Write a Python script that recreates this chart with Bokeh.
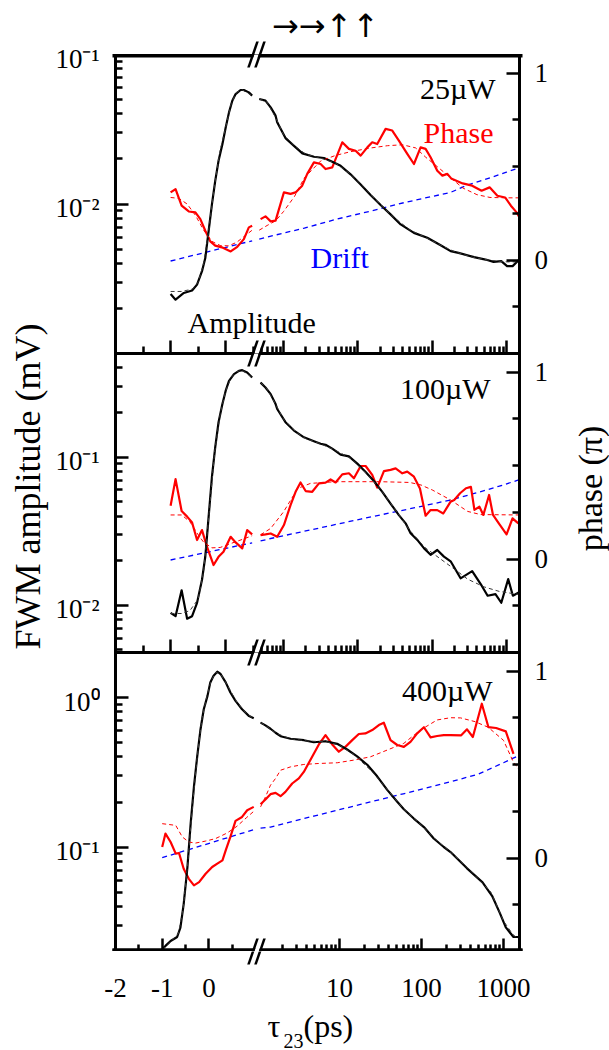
import math

from bokeh.embed import file_html
from bokeh.layouts import column, row
from bokeh.models import (CustomJSTickFormatter, FixedTicker, Label, LinearAxis,
                          LinearScale, LogAxis, LogScale, PolyAnnotation, Range1d)
from bokeh.plotting import figure
from bokeh.resources import INLINE

SERIF = "Liberation Serif"
RED = "#ff0000"
BLUE = "#0000ff"

# ---------------------------------------------------------------- 25 uW
AMP1_LIN_T = [-1.0, -0.91, -0.76, -0.61, -0.52, -0.43, -0.37, -0.31, -0.25, -0.19,
              -0.13, -0.06, 0.0, 0.06, 0.12, 0.18, 0.27, 0.33, 0.42, 0.48]
AMP1_LIN = [0.0025, 0.00229, 0.00254, 0.00264, 0.00289, 0.00355, 0.00436, 0.00659, 0.00995, 0.01426,
            0.01945, 0.0251, 0.0325, 0.0410, 0.0491, 0.0544, 0.0579, 0.0579, 0.0558, 0.0531]
AMP1_LOG_T = [0.47, 0.57, 0.67, 0.78, 0.82, 1.06, 1.38, 1.79, 2.56, 3.49, 4.52, 5.85, 7.97, 10.9, 14.8,
              20.2, 27.5, 37.6, 56.8, 85.9, 130, 177, 226, 366, 523, 670, 851, 1018, 1208, 1455]
AMP1_LOG = [0.0504, 0.0491, 0.0443, 0.0390, 0.0352, 0.0276, 0.0245, 0.0218, 0.0207, 0.0203, 0.0192,
            0.0180, 0.0158, 0.0135, 0.01148, 0.00984, 0.00852, 0.00730, 0.00641, 0.00594, 0.00530,
            0.00484, 0.00471, 0.00441, 0.00425, 0.00410, 0.00415, 0.00384, 0.00384, 0.00421]
AMP1_FIT_LIN_T = [-1.0, -0.8, -0.6, -0.5, -0.4, -0.3, -0.2, -0.1, 0.0, 0.1, 0.2, 0.3, 0.48]
AMP1_FIT_LIN = [0.0026, 0.0026, 0.0027, 0.0030, 0.0040, 0.0070, 0.0135, 0.0230, 0.0325, 0.0470,
                0.0560, 0.0580, 0.0530]
AMP1_FIT_LOG_T = [0.47, 0.6, 0.8, 1.0, 1.4, 2.0, 3.0, 5.0, 8.0, 12, 20, 30, 50, 80, 130, 200, 350,
                  600, 1000, 1500]
AMP1_FIT_LOG = [0.0505, 0.0480, 0.0370, 0.0290, 0.0245, 0.0215, 0.0204, 0.0188, 0.0158, 0.0130,
                0.0099, 0.0082, 0.0067, 0.0060, 0.0053, 0.0048, 0.0044, 0.0042, 0.0041, 0.0041]
PH1_LIN_T = [-1.0, -0.91, -0.80, -0.67, -0.55, -0.46, -0.37, -0.28, -0.19, -0.07, 0.09, 0.21, 0.33,
             0.42, 0.48]
PH1_LIN = [0.362, 0.380, 0.291, 0.260, 0.255, 0.219, 0.157, 0.100, 0.077, 0.068, 0.046, 0.071, 0.112,
           0.175, 0.184]
PH1_LOG_T = [0.49, 0.57, 0.67, 0.78, 1.01, 1.24, 1.45, 1.78, 2.08, 2.56, 3.15, 3.67, 4.52, 6.16, 7.57,
             9.31, 10.9, 13.4, 15.6, 18.2, 23.6, 29.0, 35.6, 46.2, 56.8, 69.8, 81.5, 95.1, 117, 137,
             160, 180, 257, 345, 462, 592, 754, 958, 1146, 1368, 1496]
PH1_LOG = [0.219, 0.234, 0.207, 0.211, 0.362, 0.354, 0.362, 0.398, 0.461, 0.523, 0.514, 0.487, 0.496,
           0.630, 0.595, 0.585, 0.559, 0.603, 0.630, 0.621, 0.702, 0.693, 0.639, 0.568, 0.514, 0.603,
           0.595, 0.550, 0.478, 0.452, 0.461, 0.437, 0.410, 0.398, 0.371, 0.389, 0.344, 0.335, 0.291,
           0.255, 0.228]
PH1_FIT_LIN_T = [-1.0, -0.85, -0.7, -0.55, -0.4, -0.25, -0.1, 0.05, 0.2, 0.35, 0.48]
PH1_FIT_LIN = [0.335, 0.33, 0.30, 0.24, 0.16, 0.10, 0.078, 0.076, 0.095, 0.13, 0.16]
PH1_FIT_LOG_T = [0.47, 0.6, 0.78, 1.0, 1.4, 1.9, 3.15, 5.0, 8.0, 15, 25, 40, 60, 82, 117, 177, 260,
                 400, 600, 1000, 1500]
PH1_FIT_LOG = [0.16, 0.185, 0.21, 0.26, 0.34, 0.44, 0.53, 0.56, 0.58, 0.60, 0.612, 0.617, 0.60, 0.55,
               0.50, 0.44, 0.385, 0.35, 0.335, 0.333, 0.333]
DRIFT1_LIN_T = [-1.0, 0.48]
DRIFT1_LIN = [-0.005, 0.103]
DRIFT1_LOG_T = [0.47, 0.78, 1.9, 5.3, 15.6, 43.6, 177, 290, 600, 1000, 1500]
DRIFT1_LOG = [0.112, 0.134, 0.171, 0.22, 0.264, 0.309, 0.362, 0.40, 0.44, 0.47, 0.495]

# ---------------------------------------------------------------- 100 uW
AMP2_LIN_T = [-1.0, -0.91, -0.80, -0.70, -0.61, -0.52, -0.43, -0.37, -0.31, -0.25, -0.19, -0.13,
              -0.06, 0.0, 0.06, 0.15, 0.24, 0.30, 0.39, 0.48]
AMP2_LIN = [0.00889, 0.00844, 0.01262, 0.00811, 0.00844, 0.01038, 0.01486, 0.02133, 0.0395, 0.0734,
            0.1167, 0.1718, 0.228, 0.2805, 0.327, 0.363, 0.382, 0.386, 0.372, 0.344]
AMP2_LOG_T = [0.49, 0.57, 0.67, 0.78, 0.82, 1.06, 1.38, 1.88, 2.56, 3.15, 3.67, 4.52, 5.85, 7.57, 9.82,
              12.7, 16.4, 21.3, 27.5, 35.6, 43.9, 51.2, 63, 77.3, 95.1, 117, 144, 177, 241, 345, 466,
              557, 710, 851, 1054, 1219, 1459]
AMP2_LOG = [0.318, 0.295, 0.266, 0.228, 0.211, 0.172, 0.151, 0.136, 0.128, 0.123, 0.121, 0.114, 0.104,
            0.101, 0.0903, 0.0793, 0.0690, 0.0582, 0.0486, 0.0406, 0.0357, 0.0306, 0.0276, 0.0243,
            0.0219, 0.0236, 0.0213, 0.0198, 0.0152, 0.0170, 0.0135, 0.0116, 0.0119, 0.0104, 0.0150,
            0.0116, 0.0122]
AMP2_FIT_LIN_T = [-1.0, -0.8, -0.65, -0.5, -0.4, -0.3, -0.2, -0.1, 0.0, 0.1, 0.2, 0.3, 0.48]
AMP2_FIT_LIN = [0.0088, 0.0088, 0.0092, 0.0110, 0.0170, 0.0420, 0.1080, 0.1950, 0.2800, 0.3450,
                0.3780, 0.3850, 0.3450]
AMP2_FIT_LOG_T = [0.49, 0.6, 0.8, 1.0, 1.5, 2.0, 3.0, 5.0, 8.0, 12, 20, 30, 50, 80, 130, 200, 300, 500,
                  800, 1500]
AMP2_FIT_LOG = [0.318, 0.288, 0.222, 0.180, 0.146, 0.133, 0.124, 0.111, 0.098, 0.081, 0.061, 0.046,
                0.032, 0.0245, 0.0205, 0.0175, 0.0150, 0.0133, 0.0124, 0.0118]
PH2_LIN_T = [-1.0, -0.91, -0.80, -0.70, -0.61, -0.52, -0.43, -0.34, -0.22, -0.13, -0.04, 0.09, 0.18,
             0.30, 0.39, 0.48]
PH2_LIN = [0.285, 0.428, 0.257, 0.227, 0.196, 0.102, 0.155, 0.066, -0.032, 0.012, 0.039, 0.119, 0.089,
           0.057, 0.155, 0.132]
PH2_LOG_T = [0.49, 0.57, 0.67, 0.82, 1.01, 1.24, 1.45, 1.69, 1.98, 2.43, 2.99, 3.67, 4.29, 5.01, 6.16,
             7.57, 8.84, 10.9, 12.7, 15.6, 18.2, 22.4, 27.5, 32.2, 39.6, 46.2, 56.8, 68.4, 81.5, 95.1,
             117, 141, 177, 198, 237, 285, 332, 370, 432, 488, 583, 658, 788, 1002, 1205, 1442]
PH2_LOG = [0.128, 0.132, 0.137, 0.119, 0.182, 0.289, 0.360, 0.410, 0.364, 0.360, 0.405, 0.409, 0.426,
           0.410, 0.453, 0.459, 0.432, 0.498, 0.498, 0.450, 0.382, 0.471, 0.477, 0.485, 0.459, 0.468,
           0.441, 0.378, 0.232, 0.262, 0.262, 0.244, 0.307, 0.316, 0.352, 0.379, 0.386, 0.263, 0.280,
           0.236, 0.343, 0.236, 0.191, 0.132, 0.218, 0.191]
PH2_FIT_LIN_T = [-1.0, -0.8, -0.65, -0.5, -0.4, -0.25, -0.1, 0.1, 0.3, 0.48]
PH2_FIT_LIN = [0.236, 0.236, 0.20, 0.13, 0.09, 0.06, 0.062, 0.084, 0.105, 0.125]
PH2_FIT_LOG_T = [0.49, 0.67, 1.0, 1.55, 2.3, 5.0, 20, 50, 71, 100, 177, 300, 450, 1500]
PH2_FIT_LOG = [0.13, 0.164, 0.253, 0.378, 0.405, 0.414, 0.414, 0.41, 0.396, 0.37, 0.316, 0.255, 0.238,
               0.236]
DRIFT2_LIN_T = [-1.0, 0.48]
DRIFT2_LIN = [-0.005, 0.087]
DRIFT2_LOG_T = [0.49, 0.67, 2.5, 10.9, 50, 177, 400, 800, 1500]
DRIFT2_LOG = [0.097, 0.110, 0.159, 0.214, 0.269, 0.316, 0.355, 0.39, 0.425]

# ---------------------------------------------------------------- 400 uW
AMP3_LIN_T = [-1.0, -0.93, -0.82, -0.68, -0.61, -0.54, -0.46, -0.39, -0.32, -0.25, -0.18, -0.11,
              -0.03, 0.03, 0.10, 0.18, 0.25, 0.36, 0.46, 0.57, 0.71, 0.86, 0.96]
AMP3_LIN = [0.0207, 0.0218, 0.0235, 0.0250, 0.0289, 0.0415, 0.0732, 0.144, 0.254, 0.404, 0.611, 0.834,
            1.025, 1.262, 1.400, 1.489, 1.436, 1.262, 1.081, 0.949, 0.834, 0.751, 0.726]
AMP3_LOG_T = [1.09, 1.25, 1.44, 1.66, 1.91, 2.53, 3.67, 4.86, 6.75, 9.37, 12.4, 16.4, 21.8, 28.8, 38.2,
              50.6, 60.9, 80.6, 107, 141, 187, 226, 359, 555, 728, 906, 1067, 1324, 1560]
AMP3_LOG = [0.679, 0.651, 0.618, 0.581, 0.551, 0.530, 0.518, 0.502, 0.510, 0.490, 0.449, 0.404, 0.355,
            0.297, 0.241, 0.201, 0.179, 0.155, 0.136, 0.114, 0.100, 0.0925, 0.072, 0.058, 0.047, 0.036,
            0.029, 0.025, 0.025]
AMP3_FIT_LIN_T = [-1.0, -0.8, -0.65, -0.55, -0.45, -0.35, -0.25, -0.15, -0.05, 0.05, 0.15, 0.25, 0.4,
                  0.6, 0.8, 0.96]
AMP3_FIT_LIN = [0.0205, 0.0235, 0.0265, 0.0390, 0.0800, 0.190, 0.400, 0.720, 1.000, 1.300, 1.470,
                1.440, 1.200, 0.930, 0.780, 0.725]
AMP3_FIT_LOG_T = [1.09, 1.3, 1.7, 2.5, 4.0, 7.0, 10, 15, 25, 40, 60, 100, 150, 250, 400, 700, 1000,
                  1300, 1560]
AMP3_FIT_LOG = [0.680, 0.640, 0.575, 0.530, 0.512, 0.505, 0.480, 0.415, 0.320, 0.235, 0.180, 0.140,
                0.112, 0.088, 0.069, 0.050, 0.032, 0.026, 0.024]
PH3_LIN_T = [-1.0, -0.93, -0.82, -0.71, -0.64, -0.54, -0.43, -0.32, -0.21, -0.07, 0.07, 0.18, 0.29,
             0.36, 0.46, 0.57, 0.71, 0.82, 0.96]
PH3_LIN = [0.059, 0.131, 0.086, 0.024, 0.027, -0.057, -0.111, -0.146, -0.129, -0.084, -0.048, -0.030,
           -0.012, 0.041, 0.113, 0.199, 0.220, 0.256, 0.274]
PH3_LOG_T = [1.09, 1.25, 1.44, 1.66, 1.91, 2.19, 2.65, 3.19, 3.67, 4.64, 5.60, 6.75, 8.15, 9.82, 11.8,
             14.3, 17.2, 20.7, 25.1, 30.2, 34.7, 41.9, 50.6, 60.9, 73.4, 88.6, 107, 129, 155, 187, 226,
             305, 359, 423, 544, 654, 812, 1067, 1324]
PH3_LOG = [0.288, 0.313, 0.342, 0.349, 0.331, 0.354, 0.399, 0.426, 0.461, 0.542, 0.608, 0.658, 0.608,
           0.569, 0.595, 0.631, 0.664, 0.667, 0.685, 0.712, 0.724, 0.631, 0.605, 0.595, 0.622, 0.667,
           0.700, 0.646, 0.653, 0.658, 0.658, 0.657, 0.689, 0.648, 0.826, 0.701, 0.696, 0.678, 0.558]
PH3_FIT_LIN_T = [-1.0, -0.71, -0.57, -0.43, -0.29, -0.07, 0.14, 0.39, 0.6, 0.8, 0.96]
PH3_FIT_LIN = [0.184, 0.175, 0.113, 0.086, 0.080, 0.091, 0.104, 0.134, 0.17, 0.215, 0.25]
PH3_FIT_LOG_T = [1.09, 1.25, 1.44, 1.66, 1.91, 2.53, 3.67, 5.5, 9.4, 14.9, 23.9, 38.2, 60.9, 97, 155,
                 226, 300, 450, 650, 1000, 1300, 1560]
PH3_FIT_LOG = [0.274, 0.327, 0.39, 0.426, 0.47, 0.488, 0.501, 0.506, 0.51, 0.524, 0.542, 0.578, 0.614,
               0.685, 0.739, 0.751, 0.75, 0.73, 0.70, 0.63, 0.52, 0.47]
DRIFT3_LIN_T = [-1.0, 0.96]
DRIFT3_LIN = [0.002, 0.152]
DRIFT3_LOG_T = [1.09, 1.44, 5.0, 18, 60, 226, 500, 1000, 1560]
DRIFT3_LOG = [0.160, 0.166, 0.226, 0.287, 0.344, 0.408, 0.45, 0.51, 0.55]

POWERS = ["25\u00b5W", "100\u00b5W", "400\u00b5W"]
X_TICK_LABELS_LIN = [(-2, "-2"), (-1, "-1"), (0, "0")]
X_TICK_LABELS_LOG = [(10, "10"), (100, "100"), (1000, "1000")]

# ---------------------------------------------------------------- page geometry (pixels)
PAGE_W, PAGE_H = 609, 1050
LEFT_W = 100                       # strip with the amplitude title and its tick labels
RIGHT_W = 45                       # strip with the phase title
FRAME_L, FRAME_R = 115, 519
FRAME_W = FRAME_R - FRAME_L
BORDER_L = FRAME_L - LEFT_W
BORDER_R = PAGE_W - RIGHT_W - FRAME_R
CENTER_W = PAGE_W - LEFT_W - RIGHT_W
FRAME_H = 299
TOP_PAD = 54
FOOTER_H = PAGE_H - TOP_PAD - 3 * FRAME_H
BREAK_X = 256
PHASE_LO, PHASE_HI = -0.5, 1.1


def decades(mantissas, exponents):
    return [m * 10.0 ** e for e in exponents for m in mantissas]


PANELS = [
    dict(top=TOP_PAD, lin_px=55.1, log_px=74.3, x1000=506, amp_range=(1.0e-3, 0.1),
         amp_major=[0.01, 0.1], amp_minor=decades(range(2, 10), [-3, -2]),
         amp_labels={0.1: "10\u207b\u00b9", 0.01: "10\u207b\u00b2"},
         log_major=[1, 10, 100, 1000],
         log_minor=[0.5, 0.6, 0.7, 0.8, 0.9] + decades(range(2, 10), [0, 1, 2]),
         amp=(AMP1_LIN_T, AMP1_LIN, AMP1_LOG_T, AMP1_LOG),
         amp_fit=(AMP1_FIT_LIN_T, AMP1_FIT_LIN, AMP1_FIT_LOG_T, AMP1_FIT_LOG),
         ph=(PH1_LIN_T, PH1_LIN, PH1_LOG_T, PH1_LOG),
         ph_fit=(PH1_FIT_LIN_T, PH1_FIT_LIN, PH1_FIT_LOG_T, PH1_FIT_LOG),
         drift=(DRIFT1_LIN_T, DRIFT1_LIN, DRIFT1_LOG_T, DRIFT1_LOG),
         power=POWERS[0], power_xy=(495, 88)),
    dict(top=TOP_PAD + FRAME_H, lin_px=55.1, log_px=74.3, x1000=506, amp_range=(0.0048, 0.5),
         amp_major=[0.01, 0.1],
         amp_minor=decades(range(5, 10), [-3]) + decades(range(2, 10), [-2]) + [0.2, 0.3, 0.4],
         amp_labels={0.1: "10\u207b\u00b9", 0.01: "10\u207b\u00b2"},
         log_major=[1, 10, 100, 1000],
         log_minor=[0.5, 0.6, 0.7, 0.8, 0.9] + decades(range(2, 10), [0, 1, 2]),
         amp=(AMP2_LIN_T, AMP2_LIN, AMP2_LOG_T, AMP2_LOG),
         amp_fit=(AMP2_FIT_LIN_T, AMP2_FIT_LIN, AMP2_FIT_LOG_T, AMP2_FIT_LOG),
         ph=(PH2_LIN_T, PH2_LIN, PH2_LOG_T, PH2_LOG),
         ph_fit=(PH2_FIT_LIN_T, PH2_FIT_LIN, PH2_FIT_LOG_T, PH2_FIT_LOG),
         drift=(DRIFT2_LIN_T, DRIFT2_LIN, DRIFT2_LOG_T, DRIFT2_LOG),
         power=POWERS[1], power_xy=(490, 388)),
    dict(top=TOP_PAD + 2 * FRAME_H, lin_px=46.7, log_px=82.0, x1000=503, amp_range=(0.02, 2.0),
         amp_major=[0.1, 1.0], amp_minor=decades(range(3, 10), [-2]) + decades(range(2, 10), [-1]),
         amp_labels={1.0: "10\u2070", 0.1: "10\u207b\u00b9"},
         log_major=[10, 100, 1000],
         log_minor=decades(range(2, 10), [0, 1, 2]),
         amp=(AMP3_LIN_T, AMP3_LIN, AMP3_LOG_T, AMP3_LOG),
         amp_fit=(AMP3_FIT_LIN_T, AMP3_FIT_LIN, AMP3_FIT_LOG_T, AMP3_FIT_LOG),
         ph=(PH3_LIN_T, PH3_LIN, PH3_LOG_T, PH3_LOG),
         ph_fit=(PH3_FIT_LIN_T, PH3_FIT_LIN, PH3_FIT_LOG_T, PH3_FIT_LOG),
         drift=(DRIFT3_LIN_T, DRIFT3_LIN, DRIFT3_LOG_T, DRIFT3_LOG),
         power=POWERS[2], power_xy=(492, 690)),
]
BREAK_LINES = [TOP_PAD + k * FRAME_H for k in range(4)]


def lin_x(cfg, X):
    return -2 + (X - FRAME_L) / cfg["lin_px"]


def log_x(cfg, X):
    return 10 ** (3 + (X - cfg["x1000"]) / cfg["log_px"])


def amp_y(cfg, v):
    """Page row of an amplitude value inside its panel."""
    lo, hi = (math.log10(a) for a in cfg["amp_range"])
    return cfg["top"] + (hi - math.log10(v)) / (hi - lo) * FRAME_H


def break_marks(p, fx, fy, y_lo, y_hi):
    """Two slanted strokes with a white gap, drawn over each horizontal frame line."""
    lean, half_h, half_w, gap = 4.5, 13, 1.3, 3.5
    for y0 in BREAK_LINES:
        if not (y_lo - half_h <= y0 <= y_hi + half_h):
            continue
        ya, yb = y0 + half_h, y0 - half_h
        xa, xb = BREAK_X - gap - lean, BREAK_X + gap - lean
        white = [(xa + half_w, ya), (xb - half_w, ya), (xb - half_w + 2 * lean, yb),
                 (xa + half_w + 2 * lean, yb)]
        shapes = [(white, "white")]
        for xs0 in (xa, xb):
            shapes.append(([(xs0 - half_w, ya), (xs0 + half_w, ya), (xs0 + half_w + 2 * lean, yb),
                            (xs0 - half_w + 2 * lean, yb)], "black"))
        for pts, color in shapes:
            p.add_layout(PolyAnnotation(xs=[fx(x) for x, _ in pts], ys=[fy(y) for _, y in pts],
                                        fill_color=color, fill_alpha=1.0, line_color=None,
                                        level="overlay"))


def frame_axis(ax, labelled=False, line_width=3):
    ax.axis_line_width = line_width
    ax.axis_line_color = "black"
    ax.axis_line_cap = "square"
    ax.major_tick_in = 13
    ax.major_tick_out = 0
    ax.minor_tick_in = 7
    ax.minor_tick_out = 0
    ax.major_tick_line_width = 2.5
    ax.minor_tick_line_width = 2.5
    ax.major_label_text_font = SERIF
    if labelled:
        ax.major_label_text_font_size = "27px"
        ax.major_label_text_color = "black"
        ax.major_label_standoff = 15
    else:
        ax.formatter = CustomJSTickFormatter(code="return ''")
        ax.major_label_text_font_size = "0px"
        ax.major_label_standoff = 0
    return ax


def make_panel(cfg, first, last):
    top, bottom = cfg["top"], cfg["top"] + FRAME_H
    lo, hi = (math.log10(v) for v in cfg["amp_range"])

    p = figure(width=CENTER_W, height=FRAME_H,
               x_range=Range1d(lin_x(cfg, FRAME_L), lin_x(cfg, FRAME_R)),
               y_range=Range1d(*cfg["amp_range"]),
               x_axis_type="linear", y_axis_type="log",
               x_axis_location=None, y_axis_location=None,
               min_border_left=BORDER_L, min_border_right=BORDER_R,
               min_border_top=0, min_border_bottom=0,
               toolbar_location=None, output_backend="svg")
    p.extra_x_ranges = {"log": Range1d(log_x(cfg, FRAME_L), log_x(cfg, FRAME_R))}
    p.extra_x_scales = {"log": LogScale()}
    p.extra_y_ranges = {"phase": Range1d(PHASE_LO, PHASE_HI)}
    p.extra_y_scales = {"phase": LinearScale()}
    p.grid.visible = False
    p.outline_line_color = None
    p.background_fill_color = "white"
    p.border_fill_color = "white"

    def px_phi(Y):
        return PHASE_LO + (bottom - Y) / FRAME_H * (PHASE_HI - PHASE_LO)

    def px_amp(Y):
        return 10 ** (hi - (Y - top) / FRAME_H * (hi - lo))

    # frame axes; the outer top and bottom edges sit on the canvas edge, so draw them wider
    p.add_layout(frame_axis(LogAxis(ticker=FixedTicker(ticks=cfg["amp_major"], minor_ticks=cfg["amp_minor"]))),
                 "left")
    p.add_layout(frame_axis(LinearAxis(y_range_name="phase",
                                       ticker=FixedTicker(ticks=[0, 1], minor_ticks=[-0.25, 0.25, 0.5, 0.75])),
                            labelled=True), "right")
    edge_w = 6 if last else 3
    p.add_layout(frame_axis(LinearAxis(ticker=FixedTicker(ticks=[-2, -1, 0], minor_ticks=[-1.5, -0.5, 0.5])),
                            line_width=edge_w), "below")
    p.add_layout(frame_axis(LogAxis(x_range_name="log",
                                    ticker=FixedTicker(ticks=cfg["log_major"], minor_ticks=cfg["log_minor"])),
                            line_width=edge_w), "below")
    p.add_layout(frame_axis(LinearAxis(ticker=FixedTicker(ticks=[])), line_width=6 if first else 3), "above")

    # curves: linear-time part on the default range, log-time part on the "log" range
    def curve(parts, color, width, dash, y_name=None):
        t_lin, v_lin, t_log, v_log = parts
        kw = {} if y_name is None else {"y_range_name": y_name}
        p.line(t_lin, v_lin, line_color=color, line_width=width, line_dash=dash, line_join="round", **kw)
        p.line(t_log, v_log, x_range_name="log", line_color=color, line_width=width, line_dash=dash,
               line_join="round", **kw)

    curve(cfg["drift"], BLUE, 1.3, "5 4", "phase")
    curve(cfg["ph"], RED, 2.2, "solid", "phase")
    curve(cfg["amp"], "black", 2.2, "solid")
    curve(cfg["ph_fit"], RED, 1.0, "4 3", "phase")
    curve(cfg["amp_fit"], "#3a3a3a", 1.0, "4 3")

    break_marks(p, lambda X: lin_x(cfg, X), px_amp, top, bottom)

    def text(X, Y, s, size, color="black", align="left", baseline="alphabetic"):
        p.add_layout(Label(x=lin_x(cfg, X), y=px_phi(Y), y_range_name="phase", text=s, text_font=SERIF,
                           text_font_size=size, text_color=color, text_align=align,
                           text_baseline=baseline))

    text(cfg["power_xy"][0], cfg["power_xy"][1], cfg["power"], "30px", align="right")
    return p, text


def make_strip(cfg, page_top, height):
    """Text strip above or below the panels, sharing the panels' time mapping."""
    s = figure(width=CENTER_W, height=height,
               x_range=Range1d(lin_x(cfg, LEFT_W), lin_x(cfg, LEFT_W + CENTER_W)),
               y_range=Range1d(0, height),
               x_axis_location=None, y_axis_location=None, min_border=0, frame_align=False,
               toolbar_location=None, output_backend="svg")
    s.extra_x_ranges = {"log": Range1d(log_x(cfg, LEFT_W), log_x(cfg, LEFT_W + CENTER_W))}
    s.extra_x_scales = {"log": LogScale()}
    s.grid.visible = False
    s.outline_line_color = None

    def px_y(Y):
        return page_top + height - Y

    break_marks(s, lambda X: lin_x(cfg, X), px_y, page_top, page_top + height)

    def text(X, Y, s_, size, align="left", baseline="alphabetic", log_value=None, font=SERIF):
        kw = {"x": lin_x(cfg, X)} if log_value is None else {"x": log_value, "x_range_name": "log"}
        s.add_layout(Label(y=px_y(Y), text=s_, text_font=font, text_font_size=size,
                           text_color="black", text_align=align, text_baseline=baseline, **kw))

    return s, text


def make_side(width):
    s = figure(width=width, height=PAGE_H, x_range=Range1d(0, width), y_range=Range1d(0, PAGE_H),
               x_axis_location=None, y_axis_location=None, min_border=0, frame_align=False,
               toolbar_location=None, output_backend="svg")
    s.grid.visible = False
    s.outline_line_color = None
    return s


p1, t1 = make_panel(PANELS[0], True, False)
p2, t2 = make_panel(PANELS[1], False, False)
p3, t3 = make_panel(PANELS[2], False, True)

# panel annotations
t1(493, 132, "Phase", "30px", color=RED, align="right")
t1(310, 257, "Drift", "30px", color=BLUE)
t1(187, 322, "Amplitude", "30px")

# polarisation sequence above the first panel
header, th = make_strip(PANELS[0], 0, TOP_PAD)
th(325, 25, "\u2192\u2192\u2191\u2191", "32px", align="center", baseline="middle", font="DejaVu Sans")

# time-axis tick labels and title under the last panel
footer, tf = make_strip(PANELS[2], TOP_PAD + 3 * FRAME_H, FOOTER_H)
for v, s in X_TICK_LABELS_LIN:
    tf(FRAME_L + (v + 2) * PANELS[2]["lin_px"], 987, s, "27px", align="center")
for v, s in X_TICK_LABELS_LOG:
    tf(0, 987, s, "27px", align="center", log_value=v)
tf(267, 1025, "\u03c4", "32px")
tf(283, 1040, "23", "20px")
tf(303, 1025, "(ps)", "32px")

# amplitude title and decade labels on the left
left = make_side(LEFT_W)
left.add_layout(Label(x=27, y=PAGE_H - 486, text="FWM amplitude (mV)", text_font=SERIF,
                      text_font_size="36px", text_color="black", text_align="center",
                      text_baseline="middle", angle=math.pi / 2))
for cfg in PANELS:
    for v, s in cfg["amp_labels"].items():
        left.add_layout(Label(x=LEFT_W - 1, y=PAGE_H - amp_y(cfg, v) - 4, text=s, text_font=SERIF,
                              text_font_size="27px", text_color="black", text_align="right",
                              text_baseline="middle"))

# phase title on the right
right = make_side(RIGHT_W)
right.add_layout(Label(x=26, y=PAGE_H - 488, text="phase (\u03c0)", text_font=SERIF,
                       text_font_size="34px", text_color="black", text_align="center",
                       text_baseline="middle", angle=math.pi / 2))

layout = row(left, column(header, p1, p2, p3, footer), right)

with open("out.html", "w") as f:
    f.write(file_html(layout, INLINE, title="FWM amplitude and phase"))
